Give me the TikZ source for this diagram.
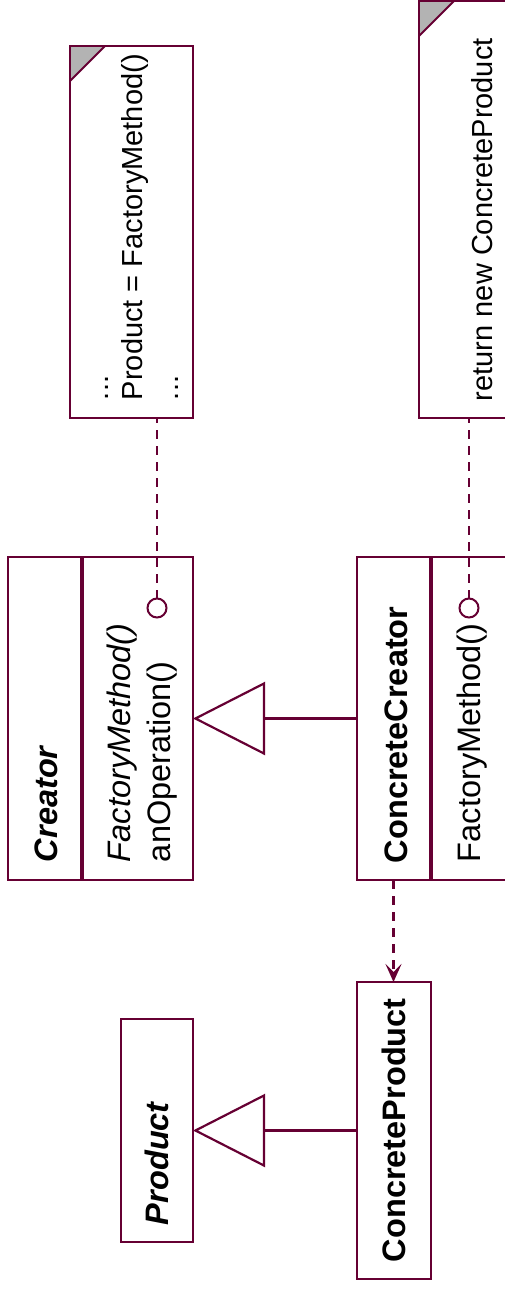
\documentclass[tikz,border=0pt]{standalone}
\usepackage{fontspec}
\setmainfont{Liberation Sans}
\usetikzlibrary{arrows.meta}
\definecolor{umlline}{HTML}{660033}
\definecolor{foldgray}{HTML}{B3B3B3}

\begin{document}
\begin{tikzpicture}[x=1pt, y=-1pt,
  every node/.style={inner sep=0pt, outer sep=0pt},
  umlbox/.style={draw=umlline, line width=2.2pt, rectangle},
  notebox/.style={draw=umlline, line width=2.2pt, rectangle},
  dotlink/.style={circle, draw=umlline, line width=2pt, minimum size=19pt},
  lbl/.style={rotate=90, anchor=base west, font=\fontsize{32.5}{38}\selectfont},
  notelbl/.style={rotate=90, anchor=base west, font=\fontsize{29}{35}\selectfont},
  notelink/.style={draw=umlline, line width=2.2pt, dash pattern=on 9pt off 7pt},
  inherit/.style={draw=umlline, line width=2.2pt, -{Triangle[open, length=72pt, width=73pt]}},
  depend/.style={draw=umlline, line width=2.2pt, dash pattern=on 9pt off 7pt, -{Stealth[length=18pt, width=16pt, inset=8pt]}}]

  \useasboundingbox (0,0) rectangle (504,1290);

  % Creator
  \node[umlbox, minimum width=73pt, minimum height=323pt] (creatorname) at (44.5,718.5) {};
  \node[umlbox, minimum width=110pt, minimum height=323pt] (creatorops) at (138,718.5) {};
  \node[lbl] (creatortxt) at (57,862) {\bfseries\itshape Creator};
  \node[lbl] (creatorfm) at (130,862) {\itshape FactoryMethod()};
  \node[lbl] (creatorop) at (170,862) {anOperation()};

  % ConcreteCreator
  \node[umlbox, minimum width=73pt, minimum height=323pt] (ccname) at (393.5,718.5) {};
  \node[umlbox, minimum width=113pt, minimum height=323pt] (ccops) at (488.5,718.5) {};
  \node[lbl] (cctxt) at (407,863) {\bfseries ConcreteCreator};
  \node[lbl] (ccfm) at (480,862) {FactoryMethod()};

  % Product and ConcreteProduct
  \node[umlbox, minimum width=72pt, minimum height=223pt] (product) at (157,1130.5) {};
  \node[lbl] (producttxt) at (168,1225) {\bfseries\itshape Product};
  \node[umlbox, minimum width=74pt, minimum height=297pt] (cproduct) at (394,1130.5) {};
  \node[lbl] (cproducttxt) at (405,1262) {\bfseries ConcreteProduct};

  % notes
  \node[notebox, minimum width=123pt, minimum height=372pt] (note1) at (131.5,232) {};
  \fill[foldgray, draw=umlline, line width=1.8pt] (note1.north west) -- ++(35,0) -- ++(-35,35) -- cycle;
  \node[notelbl] (note1a) at (108,400) {...};
  \node[notelbl] (note1b) at (142,400) {Product = FactoryMethod()};
  \node[notelbl] (note1c) at (178,400) {...};

  \node[notebox, minimum width=126pt, minimum height=417pt] (note2) at (482,209.5) {};
  \fill[foldgray, draw=umlline, line width=1.8pt] (note2.north west) -- ++(35,0) -- ++(-35,35) -- cycle;
  \node[notelbl] (note2a) at (492,401) {return new ConcreteProduct};

  % note links
  \node[dotlink] (fmdot1) at (157,608) {};
  \node[dotlink] (fmdot2) at (469,608) {};
  \draw[notelink] (fmdot1.north) -- (fmdot1.north |- note1.south);
  \draw[notelink] (fmdot2.north) -- (fmdot2.north |- note2.south);

  % relations
  \draw[inherit] (ccname.west) -- (creatorops.east);
  \draw[inherit] (cproduct.west) -- (product.east);
  \draw[depend] (ccname.south) -- (ccname.south |- cproduct.north);

\end{tikzpicture}
\end{document}
